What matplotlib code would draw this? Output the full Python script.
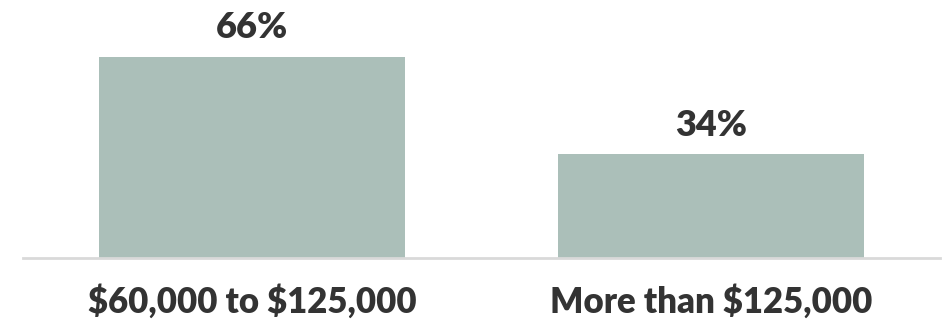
import matplotlib
matplotlib.use("Agg")
import matplotlib.pyplot as plt

plt.rcParams["text.parse_math"] = False

categories = ["$60,000 to $125,000", "More than $125,000"]
values = [66, 34]
value_labels = ["66%", "34%"]

W, H = 947, 325
fig = plt.figure(figsize=(W / 100, H / 100), dpi=100)
ax = fig.add_axes([23 / W, 1 - 258 / H, (940 - 23) / W, 258 / H])
x = list(range(len(categories)))
ax.bar(x, values, width=0.667, color="#abbfb9", zorder=2)
ax.set_xlim(-0.5, 1.5)
ax.set_ylim(0, 84.6)
for s in ["top", "right", "left"]:
    ax.spines[s].set_visible(False)
ax.spines["bottom"].set_color("#d9d9d9")
ax.spines["bottom"].set_linewidth(2)
ax.set_yticks([])
ax.set_xticks(x)
ax.set_xticklabels(categories, fontsize=25, fontweight="heavy", family="Lato", color="#333333")
ax.tick_params(axis="x", length=0, pad=19)
for xi, v, lab in zip(x, values, value_labels):
    ax.annotate(lab, (xi, v), xytext=(0, 9), textcoords="offset points", ha="center", va="bottom",
                fontsize=26, fontweight="heavy", family="Lato", color="#333333")
fig.savefig("out.png", dpi=100)
